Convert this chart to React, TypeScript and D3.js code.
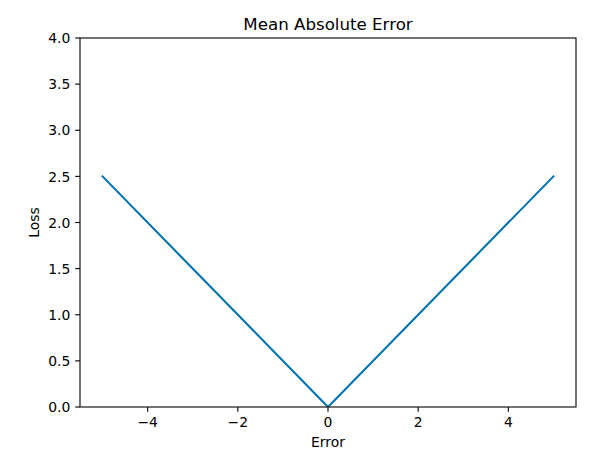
import React from "react";
import * as d3 from "d3";

const errorValues = [-5, 0, 5];
const lossValues = [2.5, 0, 2.5];
const xTicks = [-4, -2, 0, 2, 4];
const yTicks = [0, 0.5, 1, 1.5, 2, 2.5, 3, 3.5, 4];
const titleText = "Mean Absolute Error";
const xLabelText = "Error";
const yLabelText = "Loss";

const W = 602;
const H = 453;
const left = 80;
const right = 576;
const top = 38;
const bottom = 407;
const font = "DejaVu Sans, sans-serif";

export default function App() {
  const x = d3.scaleLinear().domain([-5.5, 5.5]).range([left, right]);
  const y = d3.scaleLinear().domain([0, 4]).range([bottom, top]);
  const pts = errorValues.map((e, i) => [e, lossValues[i]] as [number, number]);
  const line = d3
    .line<[number, number]>()
    .x((d) => x(d[0]))
    .y((d) => y(d[1]));
  const tickLen = 4.86;
  const fmtX = (v: number) => (v < 0 ? "\u2212" + Math.abs(v) : String(v));
  return (
    <svg
      width={W}
      height={H}
      style={{ position: "absolute", left: 0, top: 0, display: "block" }}
      fontFamily={font}
    >
      <rect x={0} y={0} width={W} height={H} fill="#ffffff" />
      <defs>
        <clipPath id="plotclip">
          <rect x={left} y={top} width={right - left} height={bottom - top} />
        </clipPath>
      </defs>
      <path
        d={line(pts) || ""}
        fill="none"
        stroke="#0072B2"
        strokeWidth={2.08}
        strokeLinecap="square"
        strokeLinejoin="round"
        clipPath="url(#plotclip)"
      />
      <rect
        x={left}
        y={top}
        width={right - left}
        height={bottom - top}
        fill="none"
        stroke="#000"
        strokeWidth={1.1}
      />
      {xTicks.map((t) => (
        <g key={"x" + t}>
          <line x1={x(t)} x2={x(t)} y1={bottom} y2={bottom + tickLen} stroke="#000" strokeWidth={1.1} />
          <text x={x(t)} y={427.3} textAnchor="middle" fontSize={13.9} fill="#000">
            {fmtX(t)}
          </text>
        </g>
      ))}
      {yTicks.map((t) => (
        <g key={"y" + t}>
          <line x1={left - tickLen} x2={left} y1={y(t)} y2={y(t)} stroke="#000" strokeWidth={1.1} />
          <text x={70.3} y={y(t) + 5.2} textAnchor="end" fontSize={13.9} fill="#000">
            {t.toFixed(1)}
          </text>
        </g>
      ))}
      <text x={(left + right) / 2} y={29.7} textAnchor="middle" fontSize={16.67} fill="#000">
        {titleText}
      </text>
      <text x={(left + right) / 2} y={446.7} textAnchor="middle" fontSize={13.9} fill="#000">
        {xLabelText}
      </text>
      <text
        transform={`translate(38.8, ${(top + bottom) / 2}) rotate(-90)`}
        textAnchor="middle"
        fontSize={13.9}
        fill="#000"
      >
        {yLabelText}
      </text>
    </svg>
  );
}
